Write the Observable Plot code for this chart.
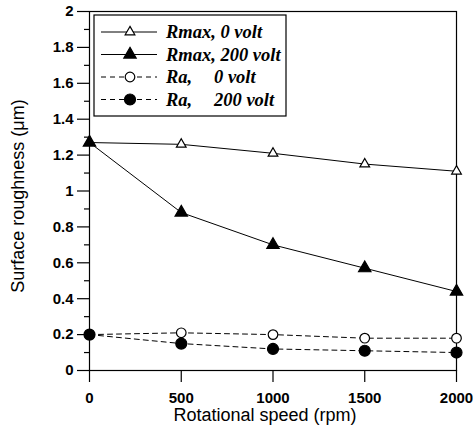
<!DOCTYPE html>
<html>
<head>
<meta charset="utf-8">
<script src="https://cdn.jsdelivr.net/npm/d3@7"></script>
<script src="https://cdn.jsdelivr.net/npm/@observablehq/plot@0.6"></script>
<style>
  html, body { margin: 0; padding: 0; background: white; }
  svg { overflow: visible; }
</style>
</head>
<body>
<div id="chart"></div>
<script>
// ---- data ----
const speeds = [0, 500, 1000, 1500, 2000];
const rmax0 = [1.27, 1.26, 1.21, 1.15, 1.11];
const rmax200 = [1.27, 0.88, 0.70, 0.57, 0.44];
const ra0 = [0.20, 0.21, 0.20, 0.18, 0.18];
const ra200 = [0.20, 0.15, 0.12, 0.11, 0.10];
const seriesNames = ["Rmax, 0 volt", "Rmax, 200 volt", "Ra, 0 volt", "Ra, 200 volt"];
const legendNames = ["Rmax,", "Rmax,", "Ra,", "Ra,"];
const legendVolts = ["0 volt", "200 volt", "0 volt", "200 volt"];
const xTicks = [0, 500, 1000, 1500, 2000];
const yTicks = [0, 0.2, 0.4, 0.6, 0.8, 1, 1.2, 1.4, 1.6, 1.8, 2];
const yMinorTicks = [0.1, 0.3, 0.5, 0.7, 0.9, 1.1, 1.3, 1.5, 1.7, 1.9];
const xLabel = "Rotational speed (rpm)";
const yLabel = "Surface roughness (\u03bcm)";

// series styling
const styles = [
  {symbol: "triangle", fill: "white", r: 3.6, dash: null},
  {symbol: "triangle", fill: "black", r: 4.6, dash: null},
  {symbol: "circle", fill: "white", r: 4.8, dash: "5,4"},
  {symbol: "circle", fill: "black", r: 5.5, dash: "5,4"}
];
const values = [rmax0, rmax200, ra0, ra200];
const series = values.map((vals, i) => vals.map((v, j) => ({speed: speeds[j], value: v, name: seriesNames[i]})));

function legendMark(index, scales, vals, dims) {
  const g = d3.create("svg:g").attr("text-anchor", "start");
  const x0 = dims.marginLeft + 5, y0 = dims.marginTop + 4;
  g.append("rect")
    .attr("x", x0).attr("y", y0).attr("width", 192).attr("height", 101)
    .attr("fill", "white").attr("stroke", "black").attr("stroke-width", 1.2);
  styles.forEach((s, i) => {
    const y = y0 + 17 + i * 22.5;
    g.append("line")
      .attr("x1", x0 + 7).attr("x2", x0 + 63).attr("y1", y).attr("y2", y)
      .attr("stroke", "black").attr("stroke-width", 1)
      .attr("stroke-dasharray", s.dash);
    const sym = s.symbol === "triangle" ? d3.symbolTriangle : d3.symbolCircle;
    g.append("path")
      .attr("d", d3.symbol(sym, s.r * s.r * Math.PI)())
      .attr("transform", `translate(${x0 + 36},${y})`)
      .attr("fill", s.fill).attr("stroke", "black").attr("stroke-width", 1.2);
    const font = (sel) => sel
      .attr("font-family", "'Liberation Serif', 'Times New Roman', serif")
      .attr("font-style", "italic").attr("font-weight", "bold")
      .attr("font-size", 18.5).attr("fill", "black")
      .attr("text-anchor", "start").attr("dy", "0.35em");
    if (legendNames[i].startsWith("Ra")) {
      g.append("text").attr("x", x0 + 72).attr("y", y).call(font).text(legendNames[i]);
      g.append("text").attr("x", x0 + 120).attr("y", y).call(font).text(legendVolts[i]);
    } else {
      g.append("text").attr("x", x0 + 72).attr("y", y).call(font).text(legendNames[i] + " " + legendVolts[i]);
    }
  });
  return g.node();
}

const marks = [
  Plot.frame({stroke: "black", strokeWidth: 1.2}),
  Plot.axisY({ticks: yMinorTicks, tickSize: 5, text: null, label: null, strokeWidth: 1.2}),
  Plot.axisY({ticks: yTicks, tickSize: 12, tickPadding: 4, label: null, fontSize: 15, fontWeight: "bold",
              tickFormat: d => String(+d.toFixed(1)), strokeWidth: 1.2}),
  Plot.axisX({ticks: xTicks, tickSize: 12, tickPadding: 10, label: null, fontSize: 15, fontWeight: "bold",
              tickFormat: d => String(d), strokeWidth: 1.2}),
  Plot.text([yLabel], {frameAnchor: "left", rotate: -90, dx: -71, dy: 5, fontSize: 18, textAnchor: "middle", lineAnchor: "middle", fill: "black"}),
  Plot.text([xLabel], {frameAnchor: "bottom", dy: 45, dx: -8, fontSize: 18, textAnchor: "middle", lineAnchor: "middle", fill: "black"})
];
series.forEach((data, i) => {
  const s = styles[i];
  marks.push(Plot.line(data, {x: "speed", y: "value", stroke: "black", strokeWidth: 1, strokeDasharray: s.dash}));
});
series.forEach((data, i) => {
  const s = styles[i];
  marks.push(Plot.dot(data, {x: "speed", y: "value", symbol: s.symbol, r: s.r, fill: s.fill, stroke: "black", strokeWidth: 1.2}));
});
marks.push(legendMark);

const chart = Plot.plot({
  width: 473,
  height: 429,
  marginLeft: 89,
  marginRight: 17,
  marginTop: 11,
  marginBottom: 59,
  x: {domain: [0, 2000]},
  y: {domain: [0, 2]},
  style: {fontFamily: "'Liberation Sans', Arial, sans-serif", background: "white", color: "black", overflow: "visible"},
  marks
});
document.getElementById("chart").appendChild(chart);
</script>
</body>
</html>
